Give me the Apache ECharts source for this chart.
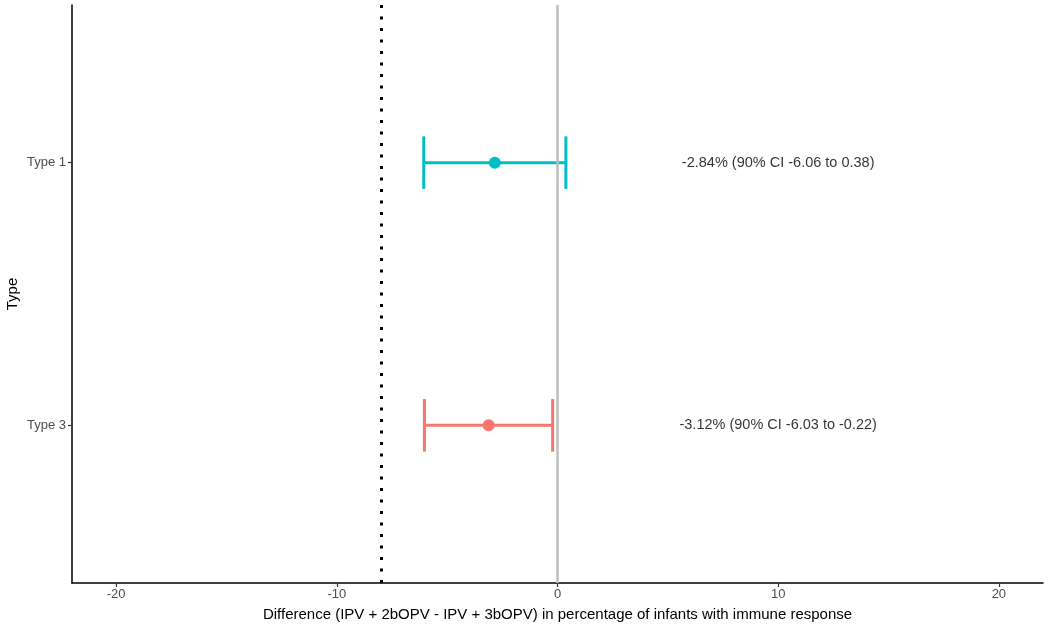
<!DOCTYPE html>
<html><head><meta charset="utf-8">
<script src="https://cdn.jsdelivr.net/npm/echarts@6/dist/echarts.min.js"></script>
<style>html,body{margin:0;padding:0;background:#fff}#c{width:1050px;height:627px}</style>
</head><body><div id="c"></div>
<script>
const categories = ['Type 3', 'Type 1'];
const estimates = [-3.12, -2.84];
const lower = [-6.03, -6.06];
const upper = [-0.22, 0.38];
const labelTexts = ['-3.12% (90% CI -6.03 to -0.22)', '-2.84% (90% CI -6.06 to 0.38)'];
const colors = ['#F8766D', '#00BFC4'];
const xTicks = [-20, -10, 0, 10, 20];
const marginLine = -8;
const labelX = 10;

const yPos = categories.map((c, i) => i + 1);
const chart = echarts.init(document.getElementById('c'));
const tickFont = {color: '#4d4d4d', fontSize: 13, fontFamily: 'Liberation Sans, Arial, sans-serif'};
chart.setOption({
  animation: false,
  grid: {left: 72, right: 7, top: 5, bottom: 44, containLabel: false, outerBoundsMode: 'none'},
  xAxis: {
    type: 'value', min: -22, max: 22,
    name: 'Difference (IPV + 2bOPV - IPV + 3bOPV) in percentage of infants with immune response',
    nameLocation: 'middle', nameGap: 24, nameMoveOverlap: false,
    nameTextStyle: {color: '#000', fontSize: 15, fontFamily: 'Liberation Sans, Arial, sans-serif'},
    axisLine: {show: true, onZero: false, lineStyle: {color: '#000', width: 1.5}},
    axisTick: {show: true, length: 4, lineStyle: {color: '#333', width: 1.2}, customValues: xTicks},
    axisLabel: Object.assign({customValues: xTicks, margin: 5}, tickFont),
    splitLine: {show: false}
  },
  yAxis: {
    type: 'value', min: 0.4, max: 2.6,
    name: 'Type', nameLocation: 'middle', nameGap: 52, nameRotate: 90, nameMoveOverlap: false,
    nameTextStyle: {color: '#000', fontSize: 15, fontFamily: 'Liberation Sans, Arial, sans-serif'},
    axisLine: {show: true, onZero: false, lineStyle: {color: '#000', width: 1.5}},
    axisTick: {show: true, length: 4, lineStyle: {color: '#333', width: 1.2}, customValues: yPos},
    axisLabel: Object.assign({customValues: yPos, margin: 6, formatter: v => categories[Math.round(v) - 1] || ''}, tickFont),
    splitLine: {show: false}
  },
  series: [
    {
      type: 'line', data: [], silent: true,
      markLine: {
        symbol: 'none', silent: true, label: {show: false},
        data: [
          {xAxis: 0, lineStyle: {color: '#bebebe', width: 2.5, type: 'solid'}},
          {xAxis: marginLine, lineStyle: {color: '#000', width: 3, type: [3, 8.5], cap: 'butt'}}
        ]
      }
    },
    {
      type: 'custom',
      data: yPos.map((y, i) => [y, lower[i], upper[i], i]),
      renderItem: (params, api) => {
        const y = api.value(0), lo = api.value(1), hi = api.value(2), i = api.value(3);
        const a = api.coord([lo, y]), b = api.coord([hi, y]);
        const h = api.size([0, 0.1])[1];
        const style = {stroke: colors[i], lineWidth: 3};
        return {type: 'group', children: [
          {type: 'line', shape: {x1: a[0], y1: a[1], x2: b[0], y2: b[1]}, style},
          {type: 'line', shape: {x1: a[0], y1: a[1] - h, x2: a[0], y2: a[1] + h}, style},
          {type: 'line', shape: {x1: b[0], y1: b[1] - h, x2: b[0], y2: b[1] + h}, style}
        ]};
      },
      encode: {x: [1, 2], y: 0}
    },
    {
      type: 'scatter', symbolSize: 12,
      data: yPos.map((y, i) => ({value: [estimates[i], y], itemStyle: {color: colors[i], opacity: 1}}))
    },
    {
      type: 'scatter', symbolSize: 0,
      data: yPos.map((y, i) => ({value: [labelX, y], label: {show: true, position: 'inside', formatter: labelTexts[i], color: '#000', fontSize: 14.5, fontFamily: 'Liberation Sans, Arial, sans-serif'}}))
    }
  ]
});
</script></body></html>
